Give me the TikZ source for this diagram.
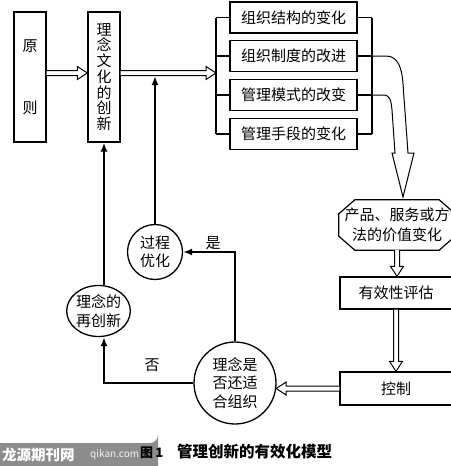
\documentclass[tikz,border=0pt]{standalone}
\usepackage{fontspec}
\setmainfont{Noto Sans CJK SC}
\usetikzlibrary{calc,arrows.meta,shapes.geometric}
\definecolor{wm}{HTML}{8C8C8C}
\tikzset{
  ln/.style={line width=1.2pt},
  box/.style={draw, line width=1.3pt, inner sep=0pt, align=center, font=\fontsize{15}{17}\selectfont},
  circ/.style={draw, circle, line width=1.3pt, inner sep=0pt, align=center, font=\fontsize{15}{18.5}\selectfont},
  ell/.style={draw, ellipse, line width=1.3pt, inner sep=0pt, align=center, font=\fontsize{15}{19}\selectfont},
  hol/.style={line width=1pt, fill=white, line join=miter},
  thk/.style={line width=2.4pt, -{Latex[length=9pt,width=7pt]}},
  lab/.style={font=\fontsize{15}{17}\selectfont, inner sep=0pt}
}
\newcommand\hollowR[2]{\draw[hol] ($(#1)+(0,-2.5)$) -- ($(#2)+(-10,-2.5)$) -- ($(#2)+(-10,-6.5)$) -- (#2) -- ($(#2)+(-10,6.5)$) -- ($(#2)+(-10,2.5)$) -- ($(#1)+(0,2.5)$);}
\newcommand\hollowL[2]{\draw[hol] ($(#1)+(0,-2.5)$) -- ($(#2)+(10,-2.5)$) -- ($(#2)+(10,-6.5)$) -- (#2) -- ($(#2)+(10,6.5)$) -- ($(#2)+(10,2.5)$) -- ($(#1)+(0,2.5)$);}
\newcommand\hollowD[2]{\draw[hol] ($(#1)+(-2.5,0)$) -- ($(#2)+(-2.5,-10)$) -- ($(#2)+(-6.5,-10)$) -- (#2) -- ($(#2)+(6.5,-10)$) -- ($(#2)+(2.5,-10)$) -- ($(#1)+(2.5,0)$);}
\begin{document}
\begin{tikzpicture}[x=1pt,y=-1pt]
\useasboundingbox (0,0) rectangle (450,466);
% left boxes
\node[box, minimum width=32pt, minimum height=130pt] (yz) at (30,77) {原\\[45pt]则};
\node[box, minimum width=32pt, minimum height=130pt, font=\fontsize{15}{15.7}\selectfont] (lx) at (104,77) {理\\念\\文\\化\\的\\创\\新};
% right group
\node[box, minimum width=127pt, minimum height=31pt] (b1) at (293.5,17.5) {组织结构的变化};
\node[box, minimum width=127pt, minimum height=31pt] (b2) at (293.5,56) {组织制度的改进};
\node[box, minimum width=127pt, minimum height=31pt] (b3) at (293.5,95) {管理模式的改变};
\node[box, minimum width=127pt, minimum height=31pt] (b4) at (293.5,134) {管理手段的变化};
\coordinate (bl) at (216,0);
\coordinate (br) at (372,0);
\coordinate (mid) at (0,73);
\coordinate (low) at (0,76);
\draw[ln] (bl|-b1.west) -- (bl|-b4.west);
\draw[ln] (br|-b1.east) -- (br|-b4.east);
\foreach \b in {b1,b2,b3,b4}{
  \draw[ln] (bl|-\b.west) -- (\b.west);
  \draw[ln] (\b.east) -- (br|-\b.east);
}
% octagon
\node[inner sep=0pt, minimum width=116pt, minimum height=50pt, align=center, font=\fontsize{15}{20}\selectfont] (oct) at (397,225) {产品、服务或方\\法的价值变化};
\draw[ln] ($(oct.north west)+(16,0)$) -- ($(oct.north east)+(-16,0)$) -- ($(oct.north east)+(0,14)$) -- ($(oct.south east)+(0,-14)$) -- ($(oct.south east)+(-16,0)$) -- ($(oct.south west)+(16,0)$) -- ($(oct.south west)+(0,-14)$) -- ($(oct.north west)+(0,14)$) -- cycle;
\node[box, minimum width=112pt, minimum height=32pt] (ev) at (396,293) {有效性评估};
\node[box, minimum width=112pt, minimum height=33pt] (ct) at (396,388.5) {控制};
% circles
\node[circ, minimum size=82pt] (jd) at (235,383) {理念是\\否还适\\合组织};
\node[circ, minimum size=55pt, font=\fontsize{15}{18}\selectfont] (gy) at (155,252) {过程\\优化};
\node[ell, minimum width=63pt, minimum height=51pt] (zc) at (98.5,311) {理念的\\再创新};
% hollow arrows
\coordinate (a1s) at (yz.east|-mid);
\coordinate (a1e) at (lx.west|-mid);
\coordinate (a2s) at (lx.east|-mid);
\coordinate (a2e) at (bl|-mid);
\hollowR{a1s}{a1e}
\hollowR{a2s}{a2e}
\coordinate (d1s) at (oct.south);
\coordinate (d1e) at (oct.south|-ev.north);
\hollowD{d1s}{d1e}
\coordinate (d2s) at (ev.south);
\coordinate (d2e) at (ev.south|-ct.north);
\hollowD{d2s}{d2e}
\coordinate (l1s) at (ct.west);
\coordinate (l1e) at ($(jd.east|-ct.west)+(-0.5,0)$);
\hollowL{l1s}{l1e}
% big curved hollow arrow
\coordinate (ha) at (403,197);
\draw[ln, line width=1pt] (b2.east) -- (386,56) .. controls (398,56) and (402,68) .. (403,84) -- (408,153) -- (414,153) -- (ha) -- (392,153) -- (395,153) -- (392,110) .. controls (391,100) and (390,95) .. (383,95) -- (b3.east);
% thick arrows
\draw[thk] (jd.north) |- (gy.east);
\coordinate (zb) at (zc.south-|lx.south);
\coordinate (zt) at (zc.north-|lx.south);
\draw[thk] (jd.west) -| (zb);
\draw[thk] (zt) -- (lx.south);
\coordinate (gt) at (gy.north|-low);
\draw[thk] (gy.north) -- (gt);
\node[lab] (yes) at (213,243) {是};
\node[lab] (no) at (152,365) {否};
% caption and watermark
\fill[wm] (0,466) -- (0,443) -- (150,443) arc[start angle=90, end angle=0, radius=8] -- (158,466) -- cycle;
\node[inner sep=0pt, text=white, font=\bfseries\fontsize{14.5}{16}\selectfont, anchor=west] (wm1) at (2,455) {龙源期刊网};
\node[inner sep=0pt, text=white!90!gray, font=\fontsize{10}{12}\selectfont, anchor=west] (wm2) at (90,455) {qikan.com};
\node[inner sep=0pt, font=\bfseries\fontsize{13}{15}\selectfont, anchor=west] (fig) at (140,453) {图\,1};
\node[inner sep=0pt, font=\bfseries\fontsize{15.5}{18}\selectfont, anchor=west] (cap) at (177,452) {管理创新的有效化模型};
\end{tikzpicture}
\end{document}
